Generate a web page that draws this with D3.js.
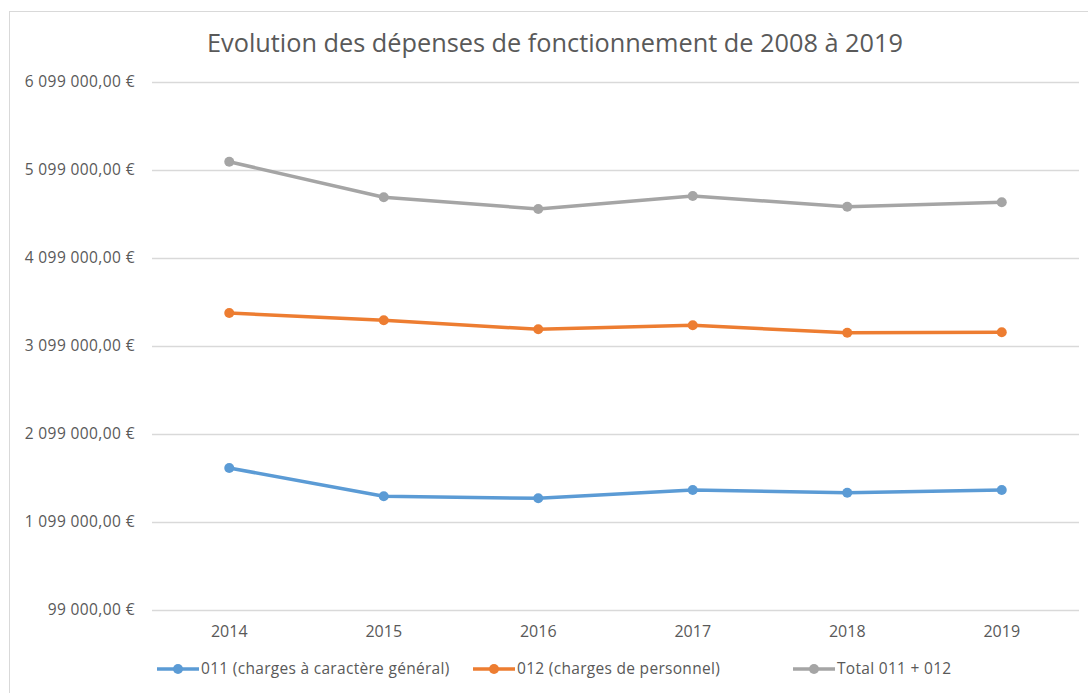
<!DOCTYPE html>
<html>
<head>
<meta charset="utf-8">
<script src="https://cdnjs.cloudflare.com/ajax/libs/d3/7.8.5/d3.min.js"></script>
<style>
    body { margin: 0; background: #fff; }
    text { font-family: "Open Sans", "Liberation Sans", sans-serif; fill: #595959; }
</style>
</head>
<body>
<div id="chart"></div>
<script>
var years = ["2014", "2015", "2016", "2017", "2018", "2019"];
var charges011 = [1713000, 1391000, 1368000, 1463000, 1432000, 1463000];
var charges012 = [3474000, 3391000, 3289000, 3334000, 3250000, 3255000];
var total = [5193000, 4789000, 4656000, 4804000, 4682000, 4732000];
var yTicks = [99000, 1099000, 2099000, 3099000, 4099000, 5099000, 6099000];
var seriesNames = ["011 (charges à caractère général)", "012 (charges de personnel)", "Total 011 + 012"];
var colors = ["#5b9bd5", "#ed7d31", "#a5a5a5"];

window.onload = function () {

    var w = 1088, h = 693;
    var svg = d3.select("#chart").append("svg")
        .attr("width", w).attr("height", h);

    // chart frame, goes past right and bottom edge like the screenshot
    svg.append("rect")
        .attr("x", 9.5).attr("y", 11.5)
        .attr("width", 1100).attr("height", 700)
        .attr("fill", "none").attr("stroke", "#d9d9d9");

    svg.append("text")
        .attr("x", 555).attr("y", 52)
        .attr("text-anchor", "middle")
        .style("font-size", "25.3px")
        .text("Evolution des dépenses de fonctionnement de 2008 à 2019");

    var x = d3.scaleBand().domain(years).range([152, 1079]);
    var y = d3.scaleLinear().domain([99000, 6099000]).range([610, 82]);

    var fmt = function (v) {
        var s = d3.format(",.2f")(v);
        return s.replace(/,/g, " ").replace(".", ",") + " €";
    };

    // gridlines
    svg.selectAll(".grid").data(yTicks).enter().append("line")
        .attr("class", "grid")
        .attr("x1", 152).attr("x2", 1079)
        .attr("y1", function (d) { return Math.round(y(d)) + 0.5; })
        .attr("y2", function (d) { return Math.round(y(d)) + 0.5; })
        .attr("stroke", "#d9d9d9").attr("stroke-width", 1.5);

    var yAxis = svg.append("g")
        .attr("transform", "translate(152,0)")
        .call(d3.axisLeft(y).tickValues(yTicks).tickFormat(fmt).tickSize(0).tickPadding(17));
    yAxis.select(".domain").remove();
    yAxis.selectAll("text")
        .style("font-family", "'Open Sans', sans-serif")
        .style("font-size", "15.5px")
        .style("letter-spacing", "0.4px")
        .attr("fill", "#595959");

    var xAxis = svg.append("g")
        .attr("transform", "translate(0,610)")
        .call(d3.axisBottom(x).tickSize(0).tickPadding(16));
    xAxis.select(".domain").remove();
    xAxis.selectAll("text")
        .style("font-family", "'Open Sans', sans-serif")
        .style("font-size", "16px").attr("fill", "#595959");

    var allSeries = [charges011, charges012, total];
    var line = d3.line()
        .x(function (d, i) { return x(years[i]) + x.bandwidth() / 2; })
        .y(function (d) { return y(d); });

    allSeries.forEach(function (vals, k) {
        svg.append("path")
            .datum(vals)
            .attr("d", line)
            .attr("fill", "none")
            .attr("stroke", colors[k])
            .attr("stroke-width", 3.5)
            .attr("stroke-linejoin", "round");
        svg.selectAll(".pt" + k).data(vals).enter().append("circle")
            .attr("class", "pt" + k)
            .attr("cx", function (d, i) { return x(years[i]) + x.bandwidth() / 2; })
            .attr("cy", function (d) { return y(d); })
            .attr("r", 5)
            .attr("fill", colors[k]);
    });

    // legend
    var legX = [157, 473, 793];
    var leg = svg.selectAll(".leg").data(seriesNames).enter().append("g")
        .attr("class", "leg")
        .attr("transform", function (d, i) { return "translate(" + legX[i] + ",669)"; });
    leg.append("line")
        .attr("x1", 0).attr("x2", 42)
        .attr("stroke", function (d, i) { return colors[i]; })
        .attr("stroke-width", 3.5);
    leg.append("circle")
        .attr("cx", 21).attr("r", 5)
        .attr("fill", function (d, i) { return colors[i]; });
    leg.append("text")
        .attr("x", 44).attr("dy", "0.35em")
        .style("font-size", "15.5px")
        .style("letter-spacing", "0.3px")
        .text(function (d) { return d; });
};
</script>
</body>
</html>
